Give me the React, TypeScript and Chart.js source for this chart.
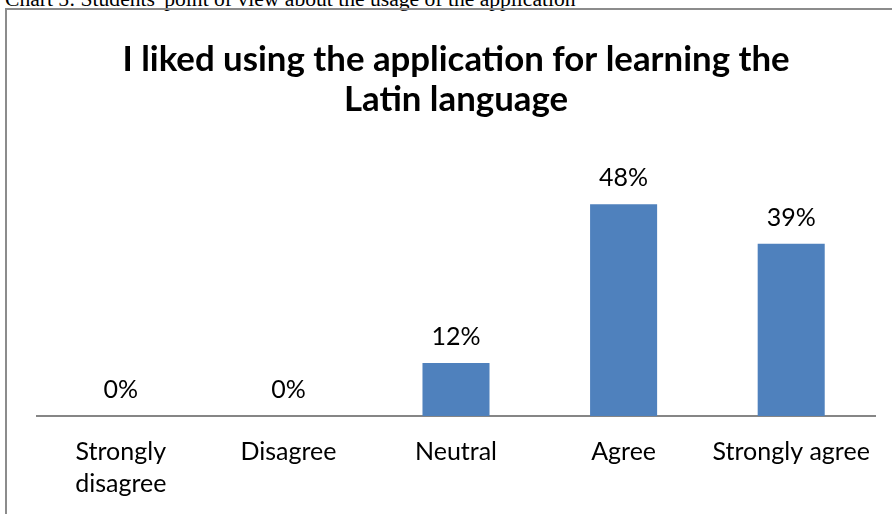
import React, { useEffect, useRef } from "react";
import { Chart, registerables } from "chart.js";

Chart.register(...registerables);

const categories: (string | string[])[] = [
  ["Strongly", "disagree"],
  "Disagree",
  "Neutral",
  "Agree",
  "Strongly agree",
];
const values: number[] = [0, 0, 12, 48, 39];
const valueLabels: string[] = ["0%", "0%", "12%", "48%", "39%"];
const titleLines: string[] = ["I liked using the application for learning the", "Latin language"];
const caption = "Chart 5: Students' point of view about the usage of the application";

const FONT = "Lato, 'Open Sans', sans-serif";

const labelPlugin = {
  id: "valueLabels",
  afterDatasetsDraw(chart: any) {
    const ctx = chart.ctx;
    const meta = chart.getDatasetMeta(0);
    ctx.save();
    ctx.font = `25px ${FONT}`;
    ctx.fillStyle = "#000";
    ctx.textAlign = "center";
    ctx.textBaseline = "middle";
    meta.data.forEach((el: any, i: number) => {
      ctx.fillText(valueLabels[i], el.x, el.y - 26);
    });
    ctx.restore();
  },
};

export default function App() {
  const ref = useRef<HTMLCanvasElement>(null);
  useEffect(() => {
    if (!ref.current) return;
    const chart = new Chart(ref.current, {
      type: "bar",
      data: {
        labels: categories,
        datasets: [
          {
            data: values,
            backgroundColor: "#4F81BD",
            borderWidth: 0,
            categoryPercentage: 1,
            barPercentage: 0.4,
          },
        ],
      },
      options: {
        animation: false,
        responsive: true,
        maintainAspectRatio: false,
        layout: { padding: { left: 30, right: 17, top: 0, bottom: 0 } },
        plugins: {
          legend: { display: false },
          tooltip: { enabled: false },
          title: {
            display: true,
            text: titleLines,
            color: "#000",
            font: { family: FONT, size: 34.8, weight: "bold", lineHeight: 40 / 34.8 },
            padding: { top: 30, bottom: 40 },
          },
        },
        scales: {
          x: {
            grid: { display: false, drawTicks: false },
            border: { display: true, color: "#868686", width: 2 },
            ticks: {
              color: "#000",
              font: { family: FONT, size: 25, lineHeight: 32 / 25 },
              padding: 20,
              maxRotation: 0,
              autoSkip: false,
            },
            afterFit(scale: any) {
              scale.height = 98;
            },
          },
          y: {
            display: false,
            min: 0,
            max: 58,
          },
        },
      },
      plugins: [labelPlugin],
    });
    return () => chart.destroy();
  }, []);

  return (
    <div style={{ position: "absolute", left: 0, top: 0, width: 892, height: 514, overflow: "hidden", background: "#fff" }}>
      <div
        style={{
          position: "absolute",
          left: 5,
          top: -11,
          fontFamily: "'Liberation Serif', 'Times New Roman', serif",
          fontSize: 21.6,
          lineHeight: "21.6px",
          whiteSpace: "nowrap",
          color: "#000",
        }}
      >
        {caption}
      </div>
      <div
        style={{
          position: "absolute",
          left: 5,
          top: 8,
          width: 900,
          height: 520,
          borderLeft: "2px solid #8c8c8c",
          borderTop: "2px solid #8c8c8c",
          boxSizing: "border-box",
        }}
      />
      <div style={{ position: "absolute", left: 7, top: 10, width: 885, height: 504 }}>
        <canvas ref={ref} />
      </div>
    </div>
  );
}
